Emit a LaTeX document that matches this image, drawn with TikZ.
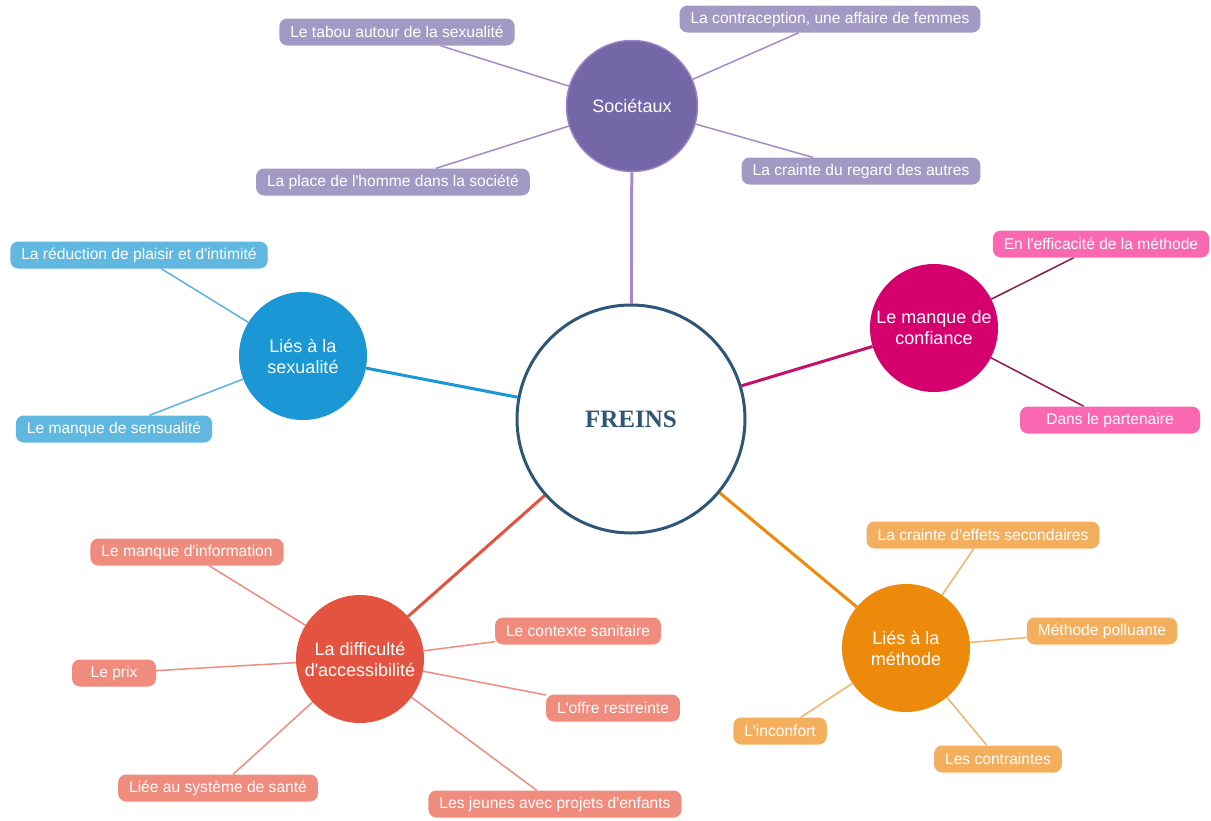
\documentclass[tikz,border=0pt]{standalone}
\usepackage{fontspec}
\setmainfont{Liberation Sans}
\newfontfamily\serifb{Liberation Serif}
\newcommand\ap{\textquotesingle}
\pgfdeclarelayer{background}
\pgfdeclarelayer{bottom}
\pgfsetlayers{bottom,background,main}
\definecolor{freins}{HTML}{2F5676}
\definecolor{socC}{HTML}{7367A8}
\definecolor{socB}{HTML}{9B80C2}
\definecolor{socL}{HTML}{A29AC5}
\definecolor{socLine}{HTML}{A68AC8}
\definecolor{confC}{HTML}{D5006D}
\definecolor{confMain}{HTML}{C4126A}
\definecolor{confL}{HTML}{FA68B2}
\definecolor{confLine}{HTML}{8E1A48}
\definecolor{sexC}{HTML}{1A97D4}
\definecolor{sexL}{HTML}{60B8E0}
\definecolor{sexLine}{HTML}{5AB4DC}
\definecolor{accC}{HTML}{E4533F}
\definecolor{accL}{HTML}{F08C7E}
\definecolor{accLine}{HTML}{EE8C7E}
\definecolor{metC}{HTML}{EE8A0B}
\definecolor{metL}{HTML}{F3AF5E}
\definecolor{metLine}{HTML}{F2B466}
\tikzset{
  hub/.style={circle, draw=none, minimum size=128pt, inner sep=0pt, align=center, text=white, font=\fontsize{18}{21}\selectfont},
  leaf/.style={rounded corners=8pt, minimum height=27pt, inner xsep=11pt, inner ysep=0pt, text=white, font=\fontsize{15.6}{18}\selectfont},
  mainlink/.style={line width=3pt},
  leaflink/.style={line width=1.5pt}
}
\begin{document}
\begin{tikzpicture}[x=1pt,y=-1pt]
\useasboundingbox (0,0) rectangle (1211,820);
\begin{pgfonlayer}{bottom}
\fill[white] (0,0) rectangle (1211,820);
\end{pgfonlayer}
% center
\node[circle, draw=freins, line width=3pt, fill=white, minimum size=228pt, inner sep=0pt, text=freins, font=\serifb\bfseries\fontsize{25}{28}\selectfont] (freins) at (631,419) {FREINS};
% hubs
\node[hub, fill=socC, draw=socB, line width=1.5pt, minimum size=131pt] (soc) at (632,106) {Sociétaux};
\node[hub, fill=confC] (conf) at (934,328) {Le manque de\\confiance};
\node[hub, fill=sexC] (sex) at (303,356) {Liés à la\\sexualité};
\node[hub, fill=accC] (acc) at (360,659) {La difficulté\\d\ap accessibilité};
\node[hub, fill=metC] (met) at (906,648) {Liés à la\\méthode};
% leaves: societaux
\node[leaf, fill=socL] (s1) at (397,32) {Le tabou autour de la sexualité};
\node[leaf, fill=socL] (s2) at (830,19) {La contraception, une affaire de femmes};
\node[leaf, fill=socL] (s3) at (393,182) {La place de l\ap homme dans la société};
\node[leaf, fill=socL] (s4) at (861,171) {La crainte du regard des autres};
% leaves: confiance
\node[leaf, fill=confL] (c1) at (1101,244) {En l\ap efficacité de la méthode};
\node[leaf, fill=confL, minimum width=180pt] (c2) at (1110,420) {Dans le partenaire};
% leaves: sexualite
\node[leaf, fill=sexL] (x1) at (139,255) {La réduction de plaisir et d\ap intimité};
\node[leaf, fill=sexL] (x2) at (114,429) {Le manque de sensualité};
% leaves: accessibilite
\node[leaf, fill=accL] (a1) at (187,552) {Le manque d\ap information};
\node[leaf, fill=accL, minimum width=84pt] (a2) at (114,673) {Le prix};
\node[leaf, fill=accL] (a3) at (218,788) {Liée au système de santé};
\node[leaf, fill=accL] (a4) at (555,804) {Les jeunes avec projets d\ap enfants};
\node[leaf, fill=accL] (a5) at (613,708) {L\ap offre restreinte};
\node[leaf, fill=accL] (a6) at (578,631) {Le contexte sanitaire};
% leaves: methode
\node[leaf, fill=metL] (m1) at (983,535) {La crainte d\ap effets secondaires};
\node[leaf, fill=metL] (m2) at (1102,631) {Méthode polluante};
\node[leaf, fill=metL] (m3) at (780,731) {L\ap inconfort};
\node[leaf, fill=metL] (m4) at (998,759) {Les contraintes};
\begin{pgfonlayer}{background}
\draw[mainlink, socLine] (freins) -- (soc);
\draw[mainlink, confMain] (freins) -- (conf);
\draw[mainlink, sexC] (freins) -- (sex);
\draw[mainlink, accC] (freins) -- (acc);
\draw[mainlink, metC] (freins) -- (met);
\foreach \l in {s1,s2,s3,s4} \draw[leaflink, socLine] (soc) -- (\l);
\foreach \l in {c1,c2} \draw[leaflink, confLine] (conf) -- (\l);
\foreach \l in {x1,x2} \draw[leaflink, sexLine] (sex) -- (\l);
\foreach \l in {a1,a2,a3,a4,a5,a6} \draw[leaflink, accLine] (acc) -- (\l);
\foreach \l in {m1,m2,m3,m4} \draw[leaflink, metLine] (met) -- (\l);
\end{pgfonlayer}
\end{tikzpicture}
\end{document}
